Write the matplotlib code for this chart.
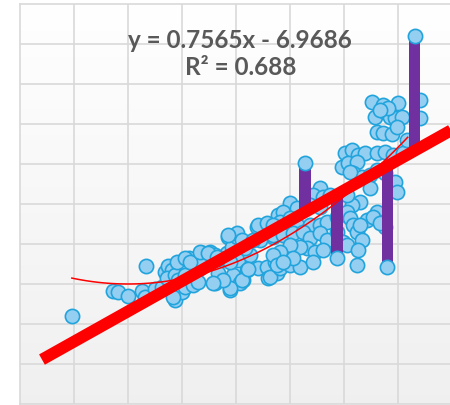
import numpy as np
import matplotlib
matplotlib.use("Agg")
import matplotlib.pyplot as plt

# scatter data
xs = [9.6, 23.3, 17.2, 18.1, 20.0, 22.6, 23.1, 25.0, 26.3, 26.9, 27.4, 28.1, 27.2, 28.7,
      29.3, 28.7, 30.0, 30.6, 31.3, 31.5, 32.0, 33.0, 33.3, 33.9, 34.6, 35.2, 36.1, 36.7,
      37.6, 38.3, 38.5, 38.9, 39.3, 39.4, 40.2, 40.4, 40.7, 41.3, 42.0, 42.6, 43.9, 44.1,
      45.0, 45.7, 45.9, 46.3, 46.9, 47.2, 47.6, 47.8, 48.1,
      30.6, 33.3, 36.1, 38.9, 41.7, 44.4,
      38.9, 41.1, 42.2, 46.3, 48.1, 37.6, 35.7, 29.1, 28.3, 30.6, 31.5, 33.3, 34.8, 36.5,
      44.1, 45.7, 40.2, 38.5, 41.1, 43.1,
      65.2, 67.2, 70.0, 74.1, 65.7, 67.6, 68.5, 69.4, 70.7, 74.1, 66.1, 67.2, 68.9, 69.8,
      68.1, 66.7,
      60.2, 61.5, 62.6, 63.9, 66.1, 67.6, 69.1, 70.9, 71.7, 59.6, 60.7, 62.4, 61.7, 63.3,
      61.1, 64.8, 66.1, 67.6, 69.4, 69.8, 64.8, 63.0, 61.5, 60.6,
      55.6, 54.3, 56.1, 57.4, 50.0, 48.7, 51.3, 55.6, 53.7, 48.1, 50.0, 51.3, 53.7, 55.6,
      56.9, 58.7, 60.6, 61.1, 61.7, 62.4, 63.3, 64.3, 66.1, 65.4, 67.2, 67.6, 46.9, 46.9,
      48.7, 50.6, 52.4, 53.7, 55.6, 56.9, 58.7, 59.8, 60.6, 53.1, 54.6, 56.1, 51.9, 50.0,
      48.1, 46.9, 47.6, 50.0, 51.9, 50.6, 48.7, 54.3, 62.6, 62.4, 66.7, 63.0]
ys = [7.0, 19.5, 13.25, 13.0, 12.0, 13.25, 11.75, 13.75, 14.25, 18.0, 19.5, 18.5, 16.5, 17.25,
      16.0, 11.0, 13.0, 14.25, 21.5, 17.75, 14.75, 15.5, 19.0, 22.75, 20.5, 23.0, 15.25, 17.75,
      21.5, 22.75, 26.75, 13.5, 24.25, 17.25, 26.75, 21.0, 15.25, 16.0, 18.5, 22.25, 29.25, 19.0,
      29.0, 19.25, 16.5, 29.75, 26.75, 20.5, 17.75, 32.25, 30.25,
      17.25, 20.5, 22.25, 20.5, 24.0, 26.0,
      14.0, 16.0, 18.75, 16.75, 19.0, 16.0, 15.25, 20.5, 11.75, 21.5, 20.5, 23.0, 22.75, 21.75,
      29.75, 30.25, 27.75, 27.25, 26.0, 26.0,
      60.5, 59.75, 60.25, 61.0, 56.75, 58.0, 56.75, 56.5, 56.75, 56.5, 53.0, 52.75, 52.5, 54.25,
      59.0, 58.5,
      47.75, 48.5, 47.25, 47.75, 47.75, 48.0, 47.25, 47.75, 51.0, 44.25, 45.25, 45.5, 42.75, 41.75,
      43.0, 42.25, 43.5, 42.75, 40.5, 38.0, 39.0, 35.5, 34.75, 37.25,
      39.0, 37.25, 36.75, 37.25, 35.25, 33.0, 34.0, 34.25, 34.75, 30.5, 31.5, 29.75, 29.75, 29.75,
      30.5, 31.75, 33.0, 31.5, 29.75, 28.0, 26.0, 31.0, 33.0, 31.75, 30.5, 29.25, 29.75, 27.25,
      27.25, 27.75, 28.0, 26.5, 27.75, 26.0, 28.0, 25.5, 24.75, 24.0, 23.0, 23.5, 24.25, 24.75,
      23.0, 22.25, 19.75, 19.75, 19.25, 21.5, 20.5, 20.5, 23.5, 19.75, 30.25, 29.75]

# outliers with residual bars
out_x = [52.8, 58.7, 68.0, 73.1]
out_y = [45.25, 21.5, 19.25, 77.0]

# trendlines
slope, intercept = 0.7565, -6.9686
quad = [0.01367, -0.5468, 20.47]

fig = plt.figure(figsize=(4.5, 4.05), dpi=100)
ax = fig.add_axes([20 / 450, 1 / 405, 432 / 450, 400 / 405])
ax.set_xlim(0, 80)
ax.set_ylim(-15, 85)

# soft grey gradient background
grad = np.linspace(0.94, 1.0, 256).reshape(-1, 1)
ax.imshow(np.dstack([grad, grad, grad]), extent=[0, 80, -15, 85], aspect="auto",
          origin="lower", zorder=0)

ax.set_xticks(np.arange(10, 80, 10))
ax.set_yticks(np.arange(-5, 85, 10))
ax.grid(True, color="#d9d9d9", lw=1.2, zorder=1)
ax.tick_params(length=0, labelbottom=False, labelleft=False)
for s in ax.spines.values():
    s.set_color("#d9d9d9")
    s.set_linewidth(1.2)

ax.scatter(xs, ys, s=105, c="#94cff2", edgecolors="#21a3dc", linewidths=1.2, zorder=3)

line_at = [slope * x + intercept for x in out_x]
ax.bar(out_x, [y - l for y, l in zip(out_y, line_at)], bottom=line_at, width=2.1,
       color="#7030a0", zorder=4)
ax.scatter(out_x, out_y, s=105, c="#94cff2", edgecolors="#21a3dc", linewidths=1.2, zorder=5)

xc = np.linspace(9.6, 71.8, 100)
ax.plot(xc, np.polyval(quad, xc), color="red", lw=1.1, zorder=6)

xl = np.array([4.07, 85])
ax.plot(xl, slope * xl + intercept, color="red", lw=8.5, solid_capstyle="butt", zorder=7)

ax.text(40.8, 72.5, "y = 0.7565x - 6.9686\nR\u00b2 = 0.688", ha="center", va="center",
        fontsize=17.5, fontweight="bold", color="#595959", family="Lato", linespacing=1.2,
        zorder=8)

fig.savefig("out.png", dpi=100)
